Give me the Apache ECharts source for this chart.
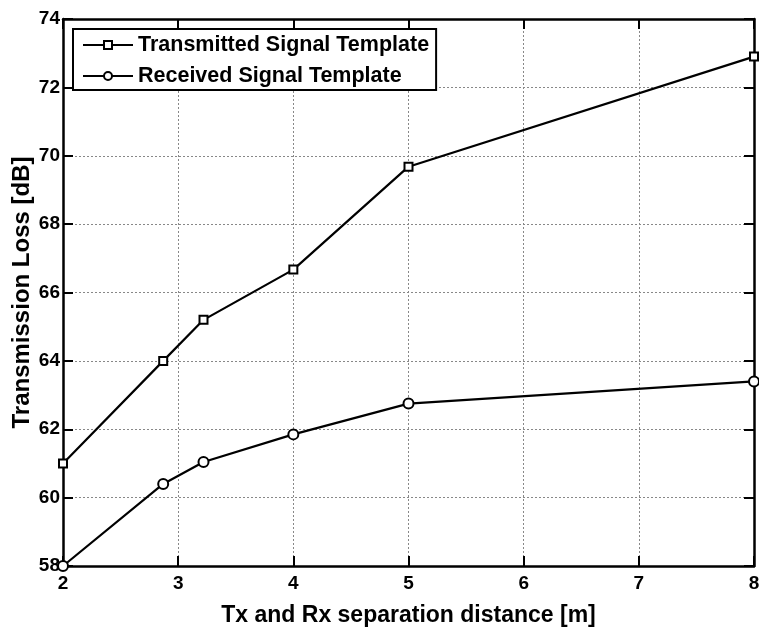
<!DOCTYPE html>
<html>
<head>
<meta charset="utf-8">
<script src="https://cdn.jsdelivr.net/npm/echarts@6/dist/echarts.min.js"></script>
<style>
  html, body { margin: 0; padding: 0; background: #fff; }
  #chart { width: 759px; height: 629px; }
</style>
</head>
<body>
<div id="chart"></div>
<script>
// Separation distances (m) at which the loss was measured
var distances = [2, 2.87, 3.22, 4, 5, 8];
// Transmission loss (dB) for each template
var transmittedLoss = [61.0, 64.0, 65.2, 66.67, 69.68, 72.9];
var receivedLoss = [58.0, 60.4, 61.04, 61.85, 62.75, 63.4];

var seriesNames = ['Transmitted Signal Template', 'Received Signal Template'];
var xTicks = [2, 3, 4, 5, 6, 7, 8];
var yTicks = [58, 60, 62, 64, 66, 68, 70, 72, 74];

function pairs(xs, ys) {
  return xs.map(function (x, i) { return [x, ys[i]]; });
}

var font = 'Liberation Sans, Arial, sans-serif';
var chart = echarts.init(document.getElementById('chart'), null, { renderer: 'canvas' });

var gridStyle = { show: true, lineStyle: { color: '#888', type: [2, 2], width: 1 } };
var frameLine = { onZero: false, lineStyle: { color: '#000', width: 2.5 } };
var inTick = { inside: true, length: 10, lineStyle: { color: '#000', width: 2 } };

chart.setOption({
  backgroundColor: '#fff',
  animation: false,
  grid: { left: 63, right: 5, top: 19, bottom: 63, containLabel: false, outerBoundsMode: 'none' },
  legend: {
    left: 73, top: 29,
    orient: 'vertical',
    data: seriesNames,
    backgroundColor: '#fff',
    borderColor: '#000',
    borderWidth: 2,
    borderRadius: 0,
    padding: [5, 7, 3, 9],
    itemGap: 9,
    itemWidth: 50,
    itemHeight: 10,
    textStyle: { fontFamily: font, fontWeight: 'bold', fontSize: 21.5, color: '#000' }
  },
  xAxis: [{
    type: 'value', min: xTicks[0], max: xTicks[xTicks.length - 1], interval: 1,
    name: 'Tx and Rx separation distance [m]', nameLocation: 'middle', nameGap: 38,
    nameMoveOverlap: false,
    nameTextStyle: { fontFamily: font, fontWeight: 'bold', fontSize: 23, color: '#000' },
    axisLine: frameLine,
    axisTick: inTick,
    axisLabel: { fontFamily: font, fontWeight: 'bold', fontSize: 19, color: '#000', margin: 8 },
    splitLine: gridStyle
  }, {
    type: 'value', position: 'top', min: xTicks[0], max: xTicks[xTicks.length - 1], interval: 1,
    axisLine: frameLine,
    axisTick: inTick,
    axisLabel: { show: false }, splitLine: { show: false }
  }],
  yAxis: [{
    type: 'value', min: yTicks[0], max: yTicks[yTicks.length - 1], interval: 2,
    name: 'Transmission Loss [dB]', nameLocation: 'middle', nameGap: 29, nameRotate: 90,
    nameMoveOverlap: false,
    nameTextStyle: { fontFamily: font, fontWeight: 'bold', fontSize: 24, color: '#000' },
    axisLine: frameLine,
    axisTick: inTick,
    axisLabel: { fontFamily: font, fontWeight: 'bold', fontSize: 19, color: '#000', margin: 3 },
    splitLine: gridStyle
  }, {
    type: 'value', position: 'right', min: yTicks[0], max: yTicks[yTicks.length - 1], interval: 2,
    axisLine: frameLine,
    axisTick: inTick,
    axisLabel: { show: false }, splitLine: { show: false }
  }],
  series: [{
    name: seriesNames[0], type: 'line', data: pairs(distances, transmittedLoss),
    symbol: 'emptyRect', symbolSize: 8, z: 3,
    lineStyle: { color: '#000', width: 2.2 },
    itemStyle: { color: '#000', borderColor: '#000', borderWidth: 2 }
  }, {
    name: seriesNames[1], type: 'line', data: pairs(distances, receivedLoss),
    symbol: 'emptyCircle', symbolSize: 10, z: 3,
    lineStyle: { color: '#000', width: 2.2 },
    itemStyle: { color: '#000', borderColor: '#000', borderWidth: 1.5 }
  }]
});
</script>
</body>
</html>
